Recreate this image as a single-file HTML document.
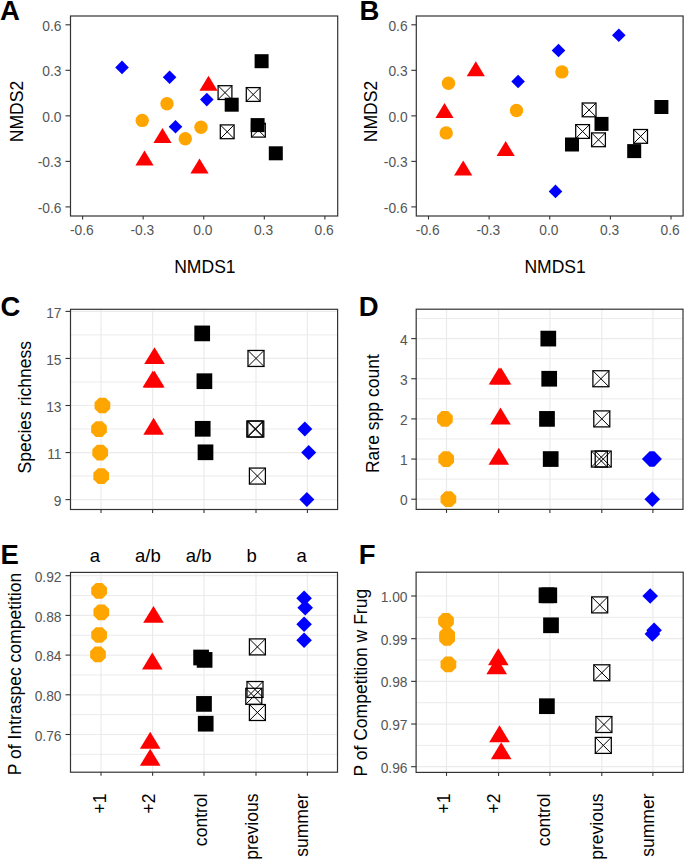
<!DOCTYPE html>
<html><head><meta charset="utf-8"><title>Figure</title><style>html,body{margin:0;padding:0;background:#fff;}svg{display:block;}</style></head><body>
<svg width="685" height="859" viewBox="0 0 685 859" font-family='"Liberation Sans", sans-serif'>
<rect x="0" y="0" width="685" height="859" fill="#fff"/>
<line x1="65.5" y1="206.9" x2="70.5" y2="206.9" stroke="#333333" stroke-width="1.1"/>
<text transform="translate(61.5 213) scale(0.92 1)" font-size="15" text-anchor="end" fill="#555555">-0.6</text>
<line x1="65.5" y1="161.38" x2="70.5" y2="161.38" stroke="#333333" stroke-width="1.1"/>
<text transform="translate(61.5 167.47) scale(0.92 1)" font-size="15" text-anchor="end" fill="#555555">-0.3</text>
<line x1="65.5" y1="115.85" x2="70.5" y2="115.85" stroke="#333333" stroke-width="1.1"/>
<text transform="translate(61.5 121.95) scale(0.92 1)" font-size="15" text-anchor="end" fill="#555555">0.0</text>
<line x1="65.5" y1="70.32" x2="70.5" y2="70.32" stroke="#333333" stroke-width="1.1"/>
<text transform="translate(61.5 76.42) scale(0.92 1)" font-size="15" text-anchor="end" fill="#555555">0.3</text>
<line x1="65.5" y1="24.8" x2="70.5" y2="24.8" stroke="#333333" stroke-width="1.1"/>
<text transform="translate(61.5 30.9) scale(0.92 1)" font-size="15" text-anchor="end" fill="#555555">0.6</text>
<line x1="82.61" y1="216" x2="82.61" y2="219.5" stroke="#333333" stroke-width="1.1"/>
<text transform="translate(81.81 234.6) scale(0.92 1)" font-size="15" text-anchor="middle" fill="#555555">-0.6</text>
<line x1="143.18" y1="216" x2="143.18" y2="219.5" stroke="#333333" stroke-width="1.1"/>
<text transform="translate(142.38 234.6) scale(0.92 1)" font-size="15" text-anchor="middle" fill="#555555">-0.3</text>
<line x1="203.75" y1="216" x2="203.75" y2="219.5" stroke="#333333" stroke-width="1.1"/>
<text transform="translate(202.95 234.6) scale(0.92 1)" font-size="15" text-anchor="middle" fill="#555555">0.0</text>
<line x1="264.32" y1="216" x2="264.32" y2="219.5" stroke="#333333" stroke-width="1.1"/>
<text transform="translate(263.52 234.6) scale(0.92 1)" font-size="15" text-anchor="middle" fill="#555555">0.3</text>
<line x1="324.89" y1="216" x2="324.89" y2="219.5" stroke="#333333" stroke-width="1.1"/>
<text transform="translate(324.09 234.6) scale(0.92 1)" font-size="15" text-anchor="middle" fill="#555555">0.6</text>
<text x="204.9" y="272.5" font-size="17.55" text-anchor="middle" fill="#000" font-weight="normal">NMDS1</text>
<text transform="translate(22.6 111.5) rotate(-90)" font-size="17.55" text-anchor="middle" fill="#000">NMDS2</text>
<text x="0" y="19.9" font-size="27.5" text-anchor="start" fill="#000" font-weight="bold">A</text>
<path d="M115.2 67.4L122 60.6L128.8 67.4L122 74.2Z" fill="#0000ff"/>
<path d="M162.8 77.3L169.6 70.5L176.4 77.3L169.6 84.1Z" fill="#0000ff"/>
<path d="M168.7 126.7L175.5 119.9L182.3 126.7L175.5 133.5Z" fill="#0000ff"/>
<path d="M200 99.6L206.8 92.8L213.6 99.6L206.8 106.4Z" fill="#0000ff"/>
<circle cx="167" cy="103.7" r="6.7" fill="#ffa500"/>
<circle cx="142.2" cy="120.4" r="6.7" fill="#ffa500"/>
<circle cx="201" cy="127.3" r="6.7" fill="#ffa500"/>
<circle cx="185.3" cy="138.7" r="6.7" fill="#ffa500"/>
<path d="M162.5 127.92L171.6 142.89L153.4 142.89Z" fill="#ff0000"/>
<path d="M144.5 150.52L153.6 165.49L135.4 165.49Z" fill="#ff0000"/>
<path d="M199.5 158.42L208.6 173.39L190.4 173.39Z" fill="#ff0000"/>
<path d="M208.5 75.72L217.6 90.69L199.4 90.69Z" fill="#ff0000"/>
<g fill="none" stroke="#000"><rect x="218.1" y="85.7" width="13.8" height="13.8" stroke-width="1.25"/><path d="M218.1 85.7L231.9 99.5M231.9 85.7L218.1 99.5" stroke-width="1.0"/></g>
<g fill="none" stroke="#000"><rect x="246.3" y="87.6" width="13.8" height="13.8" stroke-width="1.25"/><path d="M246.3 87.6L260.1 101.4M260.1 87.6L246.3 101.4" stroke-width="1.0"/></g>
<g fill="none" stroke="#000"><rect x="220.3" y="124.9" width="13.8" height="13.8" stroke-width="1.25"/><path d="M220.3 124.9L234.1 138.7M234.1 124.9L220.3 138.7" stroke-width="1.0"/></g>
<g fill="none" stroke="#000"><rect x="251.5" y="123.3" width="13.8" height="13.8" stroke-width="1.25"/><path d="M251.5 123.3L265.3 137.1M265.3 123.3L251.5 137.1" stroke-width="1.0"/></g>
<rect x="254.6" y="54.2" width="14" height="14" fill="#000"/>
<rect x="224.7" y="97.7" width="14" height="14" fill="#000"/>
<rect x="250.6" y="118.1" width="14" height="14" fill="#000"/>
<rect x="268.8" y="146.3" width="14" height="14" fill="#000"/>
<rect x="70.5" y="16" width="267.2" height="200" fill="none" stroke="#333333" stroke-width="1.2"/>
<line x1="411.3" y1="206.9" x2="416.3" y2="206.9" stroke="#333333" stroke-width="1.1"/>
<text transform="translate(407.6 213) scale(0.92 1)" font-size="15" text-anchor="end" fill="#555555">-0.6</text>
<line x1="411.3" y1="161.38" x2="416.3" y2="161.38" stroke="#333333" stroke-width="1.1"/>
<text transform="translate(407.6 167.47) scale(0.92 1)" font-size="15" text-anchor="end" fill="#555555">-0.3</text>
<line x1="411.3" y1="115.85" x2="416.3" y2="115.85" stroke="#333333" stroke-width="1.1"/>
<text transform="translate(407.6 121.95) scale(0.92 1)" font-size="15" text-anchor="end" fill="#555555">0.0</text>
<line x1="411.3" y1="70.32" x2="416.3" y2="70.32" stroke="#333333" stroke-width="1.1"/>
<text transform="translate(407.6 76.42) scale(0.92 1)" font-size="15" text-anchor="end" fill="#555555">0.3</text>
<line x1="411.3" y1="24.8" x2="416.3" y2="24.8" stroke="#333333" stroke-width="1.1"/>
<text transform="translate(407.6 30.9) scale(0.92 1)" font-size="15" text-anchor="end" fill="#555555">0.6</text>
<line x1="428.49" y1="216" x2="428.49" y2="219.5" stroke="#333333" stroke-width="1.1"/>
<text transform="translate(427.69 234.6) scale(0.92 1)" font-size="15" text-anchor="middle" fill="#555555">-0.6</text>
<line x1="489.12" y1="216" x2="489.12" y2="219.5" stroke="#333333" stroke-width="1.1"/>
<text transform="translate(488.32 234.6) scale(0.92 1)" font-size="15" text-anchor="middle" fill="#555555">-0.3</text>
<line x1="549.75" y1="216" x2="549.75" y2="219.5" stroke="#333333" stroke-width="1.1"/>
<text transform="translate(548.95 234.6) scale(0.92 1)" font-size="15" text-anchor="middle" fill="#555555">0.0</text>
<line x1="610.38" y1="216" x2="610.38" y2="219.5" stroke="#333333" stroke-width="1.1"/>
<text transform="translate(609.58 234.6) scale(0.92 1)" font-size="15" text-anchor="middle" fill="#555555">0.3</text>
<line x1="671.01" y1="216" x2="671.01" y2="219.5" stroke="#333333" stroke-width="1.1"/>
<text transform="translate(670.21 234.6) scale(0.92 1)" font-size="15" text-anchor="middle" fill="#555555">0.6</text>
<text x="555.1" y="272.5" font-size="17.55" text-anchor="middle" fill="#000" font-weight="normal">NMDS1</text>
<text transform="translate(377.2 111.5) rotate(-90)" font-size="17.55" text-anchor="middle" fill="#000">NMDS2</text>
<text x="359.5" y="19.9" font-size="27.5" text-anchor="start" fill="#000" font-weight="bold">B</text>
<circle cx="448.5" cy="83.3" r="6.7" fill="#ffa500"/>
<circle cx="516.5" cy="110.5" r="6.7" fill="#ffa500"/>
<circle cx="446.2" cy="132.9" r="6.7" fill="#ffa500"/>
<circle cx="561.9" cy="71.9" r="6.7" fill="#ffa500"/>
<path d="M475.8 61.22L484.9 76.19L466.7 76.19Z" fill="#ff0000"/>
<path d="M444.5 103.12L453.6 118.09L435.4 118.09Z" fill="#ff0000"/>
<path d="M505.7 141.12L514.8 156.09L496.6 156.09Z" fill="#ff0000"/>
<path d="M463.2 160.42L472.3 175.39L454.1 175.39Z" fill="#ff0000"/>
<path d="M511.3 81.5L518.1 74.7L524.9 81.5L518.1 88.3Z" fill="#0000ff"/>
<path d="M551.7 50.5L558.5 43.7L565.3 50.5L558.5 57.3Z" fill="#0000ff"/>
<path d="M612 35.2L618.8 28.4L625.6 35.2L618.8 42Z" fill="#0000ff"/>
<path d="M548.7 191.4L555.5 184.6L562.3 191.4L555.5 198.2Z" fill="#0000ff"/>
<g fill="none" stroke="#000"><rect x="582.2" y="103" width="13.8" height="13.8" stroke-width="1.25"/><path d="M582.2 103L596 116.8M596 103L582.2 116.8" stroke-width="1.0"/></g>
<g fill="none" stroke="#000"><rect x="575.7" y="124.6" width="13.8" height="13.8" stroke-width="1.25"/><path d="M575.7 124.6L589.5 138.4M589.5 124.6L575.7 138.4" stroke-width="1.0"/></g>
<g fill="none" stroke="#000"><rect x="591.6" y="132.9" width="13.8" height="13.8" stroke-width="1.25"/><path d="M591.6 132.9L605.4 146.7M605.4 132.9L591.6 146.7" stroke-width="1.0"/></g>
<g fill="none" stroke="#000"><rect x="633.7" y="129.5" width="13.8" height="13.8" stroke-width="1.25"/><path d="M633.7 129.5L647.5 143.3M647.5 129.5L633.7 143.3" stroke-width="1.0"/></g>
<rect x="594.5" y="116.9" width="14" height="14" fill="#000"/>
<rect x="565" y="137.5" width="14" height="14" fill="#000"/>
<rect x="627.2" y="144.1" width="14" height="14" fill="#000"/>
<rect x="654.4" y="100" width="14" height="14" fill="#000"/>
<rect x="416.3" y="16" width="266.8" height="200" fill="none" stroke="#333333" stroke-width="1.2"/>
<line x1="70.5" y1="334.92" x2="337.6" y2="334.92" stroke="#ebebeb" stroke-width="1.0"/>
<line x1="70.5" y1="381.97" x2="337.6" y2="381.97" stroke="#ebebeb" stroke-width="1.0"/>
<line x1="70.5" y1="429.02" x2="337.6" y2="429.02" stroke="#ebebeb" stroke-width="1.0"/>
<line x1="70.5" y1="476.07" x2="337.6" y2="476.07" stroke="#ebebeb" stroke-width="1.0"/>
<line x1="70.5" y1="311.4" x2="337.6" y2="311.4" stroke="#ebebeb" stroke-width="1.2"/>
<line x1="70.5" y1="358.45" x2="337.6" y2="358.45" stroke="#ebebeb" stroke-width="1.2"/>
<line x1="70.5" y1="405.5" x2="337.6" y2="405.5" stroke="#ebebeb" stroke-width="1.2"/>
<line x1="70.5" y1="452.55" x2="337.6" y2="452.55" stroke="#ebebeb" stroke-width="1.2"/>
<line x1="70.5" y1="499.6" x2="337.6" y2="499.6" stroke="#ebebeb" stroke-width="1.2"/>
<line x1="101" y1="309.3" x2="101" y2="509.5" stroke="#ebebeb" stroke-width="1.2"/>
<line x1="152.6" y1="309.3" x2="152.6" y2="509.5" stroke="#ebebeb" stroke-width="1.2"/>
<line x1="204" y1="309.3" x2="204" y2="509.5" stroke="#ebebeb" stroke-width="1.2"/>
<line x1="256" y1="309.3" x2="256" y2="509.5" stroke="#ebebeb" stroke-width="1.2"/>
<line x1="307.4" y1="309.3" x2="307.4" y2="509.5" stroke="#ebebeb" stroke-width="1.2"/>
<line x1="65.5" y1="311.4" x2="70.5" y2="311.4" stroke="#333333" stroke-width="1.1"/>
<text transform="translate(61.5 317.5) scale(0.92 1)" font-size="15" text-anchor="end" fill="#555555">17</text>
<line x1="65.5" y1="358.45" x2="70.5" y2="358.45" stroke="#333333" stroke-width="1.1"/>
<text transform="translate(61.5 364.55) scale(0.92 1)" font-size="15" text-anchor="end" fill="#555555">15</text>
<line x1="65.5" y1="405.5" x2="70.5" y2="405.5" stroke="#333333" stroke-width="1.1"/>
<text transform="translate(61.5 411.6) scale(0.92 1)" font-size="15" text-anchor="end" fill="#555555">13</text>
<line x1="65.5" y1="452.55" x2="70.5" y2="452.55" stroke="#333333" stroke-width="1.1"/>
<text transform="translate(61.5 458.65) scale(0.92 1)" font-size="15" text-anchor="end" fill="#555555">11</text>
<line x1="65.5" y1="499.6" x2="70.5" y2="499.6" stroke="#333333" stroke-width="1.1"/>
<text transform="translate(61.5 505.7) scale(0.92 1)" font-size="15" text-anchor="end" fill="#555555">9</text>
<line x1="101" y1="509.5" x2="101" y2="513" stroke="#333333" stroke-width="1.1"/>
<line x1="152.6" y1="509.5" x2="152.6" y2="513" stroke="#333333" stroke-width="1.1"/>
<line x1="204" y1="509.5" x2="204" y2="513" stroke="#333333" stroke-width="1.1"/>
<line x1="256" y1="509.5" x2="256" y2="513" stroke="#333333" stroke-width="1.1"/>
<line x1="307.4" y1="509.5" x2="307.4" y2="513" stroke="#333333" stroke-width="1.1"/>
<text transform="translate(30.6 407.3) rotate(-90)" font-size="17.55" text-anchor="middle" fill="#000">Species richness</text>
<text x="0.5" y="316.2" font-size="27.5" text-anchor="start" fill="#000" font-weight="bold">C</text>
<polygon points="110.25,408.75 105.65,413.35 99.15,413.35 94.55,408.75 94.55,402.25 99.15,397.65 105.65,397.65 110.25,402.25" fill="#ffa500"/>
<polygon points="106.85,432.28 102.25,436.88 95.75,436.88 91.15,432.28 91.15,425.77 95.75,421.17 102.25,421.17 106.85,425.77" fill="#ffa500"/>
<polygon points="108.05,455.8 103.45,460.4 96.95,460.4 92.35,455.8 92.35,449.3 96.95,444.7 103.45,444.7 108.05,449.3" fill="#ffa500"/>
<polygon points="109.05,479.33 104.45,483.93 97.95,483.93 93.35,479.33 93.35,472.82 97.95,468.22 104.45,468.22 109.05,472.82" fill="#ffa500"/>
<path d="M154.5 347.15L164.8 364.1L144.2 364.1Z" fill="#ff0000"/>
<path d="M152.8 370.68L163.1 387.62L142.5 387.62Z" fill="#ff0000"/>
<path d="M154.4 370.68L164.7 387.62L144.1 387.62Z" fill="#ff0000"/>
<path d="M153.6 417.73L163.9 434.67L143.3 434.67Z" fill="#ff0000"/>
<rect x="194.35" y="325.55" width="15.7" height="15.7" fill="#000"/>
<rect x="196.55" y="373.35" width="15.7" height="15.7" fill="#000"/>
<rect x="194.85" y="420.95" width="15.7" height="15.7" fill="#000"/>
<rect x="197.65" y="444.45" width="15.7" height="15.7" fill="#000"/>
<g fill="none" stroke="#000"><rect x="248" y="350.45" width="16" height="16" stroke-width="1.25"/><path d="M248 350.45L264 366.45M264 350.45L248 366.45" stroke-width="1.0"/></g>
<g fill="none" stroke="#000"><rect x="246.8" y="421.02" width="16" height="16" stroke-width="1.25"/><path d="M246.8 421.02L262.8 437.02M262.8 421.02L246.8 437.02" stroke-width="1.0"/></g>
<g fill="none" stroke="#000"><rect x="247.8" y="421.02" width="16" height="16" stroke-width="1.25"/><path d="M247.8 421.02L263.8 437.02M263.8 421.02L247.8 437.02" stroke-width="1.0"/></g>
<g fill="none" stroke="#000"><rect x="249.4" y="468.07" width="16" height="16" stroke-width="1.25"/><path d="M249.4 468.07L265.4 484.07M265.4 468.07L249.4 484.07" stroke-width="1.0"/></g>
<path d="M297.3 429.02L304.8 421.52L312.3 429.02L304.8 436.52Z" fill="#0000ff"/>
<path d="M301.2 452.55L308.7 445.05L316.2 452.55L308.7 460.05Z" fill="#0000ff"/>
<path d="M299.4 499.6L306.9 492.1L314.4 499.6L306.9 507.1Z" fill="#0000ff"/>
<rect x="70.5" y="309.3" width="267.1" height="200.2" fill="none" stroke="#333333" stroke-width="1.2"/>
<line x1="416.2" y1="479.12" x2="683" y2="479.12" stroke="#ebebeb" stroke-width="1.0"/>
<line x1="416.2" y1="438.98" x2="683" y2="438.98" stroke="#ebebeb" stroke-width="1.0"/>
<line x1="416.2" y1="398.82" x2="683" y2="398.82" stroke="#ebebeb" stroke-width="1.0"/>
<line x1="416.2" y1="358.67" x2="683" y2="358.67" stroke="#ebebeb" stroke-width="1.0"/>
<line x1="416.2" y1="318.52" x2="683" y2="318.52" stroke="#ebebeb" stroke-width="1.0"/>
<line x1="416.2" y1="338.6" x2="683" y2="338.6" stroke="#ebebeb" stroke-width="1.2"/>
<line x1="416.2" y1="378.75" x2="683" y2="378.75" stroke="#ebebeb" stroke-width="1.2"/>
<line x1="416.2" y1="418.9" x2="683" y2="418.9" stroke="#ebebeb" stroke-width="1.2"/>
<line x1="416.2" y1="459.05" x2="683" y2="459.05" stroke="#ebebeb" stroke-width="1.2"/>
<line x1="416.2" y1="499.2" x2="683" y2="499.2" stroke="#ebebeb" stroke-width="1.2"/>
<line x1="446.5" y1="309.2" x2="446.5" y2="509.4" stroke="#ebebeb" stroke-width="1.2"/>
<line x1="498.6" y1="309.2" x2="498.6" y2="509.4" stroke="#ebebeb" stroke-width="1.2"/>
<line x1="549.9" y1="309.2" x2="549.9" y2="509.4" stroke="#ebebeb" stroke-width="1.2"/>
<line x1="601.8" y1="309.2" x2="601.8" y2="509.4" stroke="#ebebeb" stroke-width="1.2"/>
<line x1="652.9" y1="309.2" x2="652.9" y2="509.4" stroke="#ebebeb" stroke-width="1.2"/>
<line x1="411.2" y1="338.6" x2="416.2" y2="338.6" stroke="#333333" stroke-width="1.1"/>
<text transform="translate(407.7 344.7) scale(0.92 1)" font-size="15" text-anchor="end" fill="#555555">4</text>
<line x1="411.2" y1="378.75" x2="416.2" y2="378.75" stroke="#333333" stroke-width="1.1"/>
<text transform="translate(407.7 384.85) scale(0.92 1)" font-size="15" text-anchor="end" fill="#555555">3</text>
<line x1="411.2" y1="418.9" x2="416.2" y2="418.9" stroke="#333333" stroke-width="1.1"/>
<text transform="translate(407.7 425) scale(0.92 1)" font-size="15" text-anchor="end" fill="#555555">2</text>
<line x1="411.2" y1="459.05" x2="416.2" y2="459.05" stroke="#333333" stroke-width="1.1"/>
<text transform="translate(407.7 465.15) scale(0.92 1)" font-size="15" text-anchor="end" fill="#555555">1</text>
<line x1="411.2" y1="499.2" x2="416.2" y2="499.2" stroke="#333333" stroke-width="1.1"/>
<text transform="translate(407.7 505.3) scale(0.92 1)" font-size="15" text-anchor="end" fill="#555555">0</text>
<line x1="446.5" y1="509.4" x2="446.5" y2="512.9" stroke="#333333" stroke-width="1.1"/>
<line x1="498.6" y1="509.4" x2="498.6" y2="512.9" stroke="#333333" stroke-width="1.1"/>
<line x1="549.9" y1="509.4" x2="549.9" y2="512.9" stroke="#333333" stroke-width="1.1"/>
<line x1="601.8" y1="509.4" x2="601.8" y2="512.9" stroke="#333333" stroke-width="1.1"/>
<line x1="652.9" y1="509.4" x2="652.9" y2="512.9" stroke="#333333" stroke-width="1.1"/>
<text transform="translate(378.6 413.6) rotate(-90)" font-size="17.55" text-anchor="middle" fill="#000">Rare spp count</text>
<text x="358.8" y="316.2" font-size="27.5" text-anchor="start" fill="#000" font-weight="bold">D</text>
<polygon points="452.75,422.15 448.15,426.75 441.65,426.75 437.05,422.15 437.05,415.65 441.65,411.05 448.15,411.05 452.75,415.65" fill="#ffa500"/>
<polygon points="454.05,462.3 449.45,466.9 442.95,466.9 438.35,462.3 438.35,455.8 442.95,451.2 449.45,451.2 454.05,455.8" fill="#ffa500"/>
<polygon points="456.25,502.45 451.65,507.05 445.15,507.05 440.55,502.45 440.55,495.95 445.15,491.35 451.65,491.35 456.25,495.95" fill="#ffa500"/>
<path d="M499 367.45L509.3 384.4L488.7 384.4Z" fill="#ff0000"/>
<path d="M501 367.45L511.3 384.4L490.7 384.4Z" fill="#ff0000"/>
<path d="M500.5 407.6L510.8 424.55L490.2 424.55Z" fill="#ff0000"/>
<path d="M498.8 447.75L509.1 464.7L488.5 464.7Z" fill="#ff0000"/>
<rect x="540.45" y="330.75" width="15.7" height="15.7" fill="#000"/>
<rect x="541.35" y="370.9" width="15.7" height="15.7" fill="#000"/>
<rect x="539.15" y="411.05" width="15.7" height="15.7" fill="#000"/>
<rect x="542.85" y="451.2" width="15.7" height="15.7" fill="#000"/>
<g fill="none" stroke="#000"><rect x="592.9" y="370.75" width="16" height="16" stroke-width="1.25"/><path d="M592.9 370.75L608.9 386.75M608.9 370.75L592.9 386.75" stroke-width="1.0"/></g>
<g fill="none" stroke="#000"><rect x="593.8" y="410.9" width="16" height="16" stroke-width="1.25"/><path d="M593.8 410.9L609.8 426.9M609.8 410.9L593.8 426.9" stroke-width="1.0"/></g>
<g fill="none" stroke="#000"><rect x="591.4" y="451.05" width="16" height="16" stroke-width="1.25"/><path d="M591.4 451.05L607.4 467.05M607.4 451.05L591.4 467.05" stroke-width="1.0"/></g>
<g fill="none" stroke="#000"><rect x="595.2" y="451.05" width="16" height="16" stroke-width="1.25"/><path d="M595.2 451.05L611.2 467.05M611.2 451.05L595.2 467.05" stroke-width="1.0"/></g>
<path d="M644.5 499.2L652.3 491.4L660.1 499.2L652.3 507Z" fill="#0000ff"/>
<path d="M641.9 459.05L649.6 451.35L654.4 451.35L661.9 459.05L654.4 466.75L649.6 466.75Z" fill="#0000ff"/>
<rect x="416.2" y="309.2" width="266.8" height="200.2" fill="none" stroke="#333333" stroke-width="1.2"/>
<line x1="70.5" y1="595.55" x2="337.5" y2="595.55" stroke="#ebebeb" stroke-width="1.0"/>
<line x1="70.5" y1="635.25" x2="337.5" y2="635.25" stroke="#ebebeb" stroke-width="1.0"/>
<line x1="70.5" y1="674.95" x2="337.5" y2="674.95" stroke="#ebebeb" stroke-width="1.0"/>
<line x1="70.5" y1="714.65" x2="337.5" y2="714.65" stroke="#ebebeb" stroke-width="1.0"/>
<line x1="70.5" y1="754.35" x2="337.5" y2="754.35" stroke="#ebebeb" stroke-width="1.0"/>
<line x1="70.5" y1="575.7" x2="337.5" y2="575.7" stroke="#ebebeb" stroke-width="1.2"/>
<line x1="70.5" y1="615.4" x2="337.5" y2="615.4" stroke="#ebebeb" stroke-width="1.2"/>
<line x1="70.5" y1="655.1" x2="337.5" y2="655.1" stroke="#ebebeb" stroke-width="1.2"/>
<line x1="70.5" y1="694.8" x2="337.5" y2="694.8" stroke="#ebebeb" stroke-width="1.2"/>
<line x1="70.5" y1="734.5" x2="337.5" y2="734.5" stroke="#ebebeb" stroke-width="1.2"/>
<line x1="101" y1="572.4" x2="101" y2="772.2" stroke="#ebebeb" stroke-width="1.2"/>
<line x1="152.6" y1="572.4" x2="152.6" y2="772.2" stroke="#ebebeb" stroke-width="1.2"/>
<line x1="204" y1="572.4" x2="204" y2="772.2" stroke="#ebebeb" stroke-width="1.2"/>
<line x1="256" y1="572.4" x2="256" y2="772.2" stroke="#ebebeb" stroke-width="1.2"/>
<line x1="307.4" y1="572.4" x2="307.4" y2="772.2" stroke="#ebebeb" stroke-width="1.2"/>
<line x1="65.5" y1="575.7" x2="70.5" y2="575.7" stroke="#333333" stroke-width="1.1"/>
<text transform="translate(61.5 581.8) scale(0.92 1)" font-size="15" text-anchor="end" fill="#555555">0.92</text>
<line x1="65.5" y1="615.4" x2="70.5" y2="615.4" stroke="#333333" stroke-width="1.1"/>
<text transform="translate(61.5 621.5) scale(0.92 1)" font-size="15" text-anchor="end" fill="#555555">0.88</text>
<line x1="65.5" y1="655.1" x2="70.5" y2="655.1" stroke="#333333" stroke-width="1.1"/>
<text transform="translate(61.5 661.2) scale(0.92 1)" font-size="15" text-anchor="end" fill="#555555">0.84</text>
<line x1="65.5" y1="694.8" x2="70.5" y2="694.8" stroke="#333333" stroke-width="1.1"/>
<text transform="translate(61.5 700.9) scale(0.92 1)" font-size="15" text-anchor="end" fill="#555555">0.80</text>
<line x1="65.5" y1="734.5" x2="70.5" y2="734.5" stroke="#333333" stroke-width="1.1"/>
<text transform="translate(61.5 740.6) scale(0.92 1)" font-size="15" text-anchor="end" fill="#555555">0.76</text>
<line x1="101" y1="772.2" x2="101" y2="775.7" stroke="#333333" stroke-width="1.1"/>
<line x1="152.6" y1="772.2" x2="152.6" y2="775.7" stroke="#333333" stroke-width="1.1"/>
<line x1="204" y1="772.2" x2="204" y2="775.7" stroke="#333333" stroke-width="1.1"/>
<line x1="256" y1="772.2" x2="256" y2="775.7" stroke="#333333" stroke-width="1.1"/>
<line x1="307.4" y1="772.2" x2="307.4" y2="775.7" stroke="#333333" stroke-width="1.1"/>
<text transform="translate(20.6 674) rotate(-90)" font-size="17.55" text-anchor="middle" fill="#000">P of Intraspec competition</text>
<text x="0.5" y="564.4" font-size="27.5" text-anchor="start" fill="#000" font-weight="bold">E</text>
<text x="94.9" y="562.3" font-size="18.5" text-anchor="middle" fill="#000" font-weight="normal">a</text>
<text x="147.9" y="562.3" font-size="18.5" text-anchor="middle" fill="#000" font-weight="normal">a/b</text>
<text x="198.6" y="562.3" font-size="18.5" text-anchor="middle" fill="#000" font-weight="normal">a/b</text>
<text x="251.7" y="562.3" font-size="18.5" text-anchor="middle" fill="#000" font-weight="normal">b</text>
<text x="301.6" y="562.3" font-size="18.5" text-anchor="middle" fill="#000" font-weight="normal">a</text>
<text transform="translate(105.7 793.5) rotate(-90)" font-size="17.55" text-anchor="end" fill="#000">+1</text>
<text transform="translate(154.5 793.5) rotate(-90)" font-size="17.55" text-anchor="end" fill="#000">+2</text>
<text transform="translate(206.9 793.5) rotate(-90)" font-size="17.55" text-anchor="end" fill="#000">control</text>
<text transform="translate(257.6 793.5) rotate(-90)" font-size="17.55" text-anchor="end" fill="#000">previous</text>
<text transform="translate(308.4 793.5) rotate(-90)" font-size="17.55" text-anchor="end" fill="#000">summer</text>
<polygon points="106.95,594.05 102.35,598.65 95.85,598.65 91.25,594.05 91.25,587.55 95.85,582.95 102.35,582.95 106.95,587.55" fill="#ffa500"/>
<polygon points="109.15,615.55 104.55,620.15 98.05,620.15 93.45,615.55 93.45,609.05 98.05,604.45 104.55,604.45 109.15,609.05" fill="#ffa500"/>
<polygon points="106.95,638.25 102.35,642.85 95.85,642.85 91.25,638.25 91.25,631.75 95.85,627.15 102.35,627.15 106.95,631.75" fill="#ffa500"/>
<polygon points="105.85,657.65 101.25,662.25 94.75,662.25 90.15,657.65 90.15,651.15 94.75,646.55 101.25,646.55 105.85,651.15" fill="#ffa500"/>
<path d="M153.5 605.9L163.8 622.85L143.2 622.85Z" fill="#ff0000"/>
<path d="M152.3 652.6L162.6 669.55L142 669.55Z" fill="#ff0000"/>
<path d="M150.2 731.7L160.5 748.65L139.9 748.65Z" fill="#ff0000"/>
<path d="M150.2 748.7L160.5 765.65L139.9 765.65Z" fill="#ff0000"/>
<rect x="193.25" y="649.65" width="15.7" height="15.7" fill="#000"/>
<rect x="196.75" y="652.05" width="15.7" height="15.7" fill="#000"/>
<rect x="196.15" y="696.05" width="15.7" height="15.7" fill="#000"/>
<rect x="197.85" y="715.85" width="15.7" height="15.7" fill="#000"/>
<g fill="none" stroke="#000"><rect x="249.4" y="638.9" width="16" height="16" stroke-width="1.25"/><path d="M249.4 638.9L265.4 654.9M265.4 638.9L249.4 654.9" stroke-width="1.0"/></g>
<g fill="none" stroke="#000"><rect x="247" y="681.5" width="16" height="16" stroke-width="1.25"/><path d="M247 681.5L263 697.5M263 681.5L247 697.5" stroke-width="1.0"/></g>
<g fill="none" stroke="#000"><rect x="245.8" y="688.3" width="16" height="16" stroke-width="1.25"/><path d="M245.8 688.3L261.8 704.3M261.8 688.3L245.8 704.3" stroke-width="1.0"/></g>
<g fill="none" stroke="#000"><rect x="249.4" y="704.5" width="16" height="16" stroke-width="1.25"/><path d="M249.4 704.5L265.4 720.5M265.4 704.5L249.4 720.5" stroke-width="1.0"/></g>
<path d="M296.3 598.2L304.1 590.4L311.9 598.2L304.1 606Z" fill="#0000ff"/>
<path d="M297.4 607.8L305.2 600L313 607.8L305.2 615.6Z" fill="#0000ff"/>
<path d="M296.3 624.2L304.1 616.4L311.9 624.2L304.1 632Z" fill="#0000ff"/>
<path d="M296.3 640.2L304.1 632.4L311.9 640.2L304.1 648Z" fill="#0000ff"/>
<rect x="70.5" y="572.4" width="267" height="199.8" fill="none" stroke="#333333" stroke-width="1.2"/>
<line x1="416.1" y1="617.34" x2="683.2" y2="617.34" stroke="#ebebeb" stroke-width="1.0"/>
<line x1="416.1" y1="660.01" x2="683.2" y2="660.01" stroke="#ebebeb" stroke-width="1.0"/>
<line x1="416.1" y1="702.69" x2="683.2" y2="702.69" stroke="#ebebeb" stroke-width="1.0"/>
<line x1="416.1" y1="745.36" x2="683.2" y2="745.36" stroke="#ebebeb" stroke-width="1.0"/>
<line x1="416.1" y1="596" x2="683.2" y2="596" stroke="#ebebeb" stroke-width="1.2"/>
<line x1="416.1" y1="638.68" x2="683.2" y2="638.68" stroke="#ebebeb" stroke-width="1.2"/>
<line x1="416.1" y1="681.35" x2="683.2" y2="681.35" stroke="#ebebeb" stroke-width="1.2"/>
<line x1="416.1" y1="724.03" x2="683.2" y2="724.03" stroke="#ebebeb" stroke-width="1.2"/>
<line x1="416.1" y1="766.7" x2="683.2" y2="766.7" stroke="#ebebeb" stroke-width="1.2"/>
<line x1="446.5" y1="572.2" x2="446.5" y2="772.4" stroke="#ebebeb" stroke-width="1.2"/>
<line x1="498.6" y1="572.2" x2="498.6" y2="772.4" stroke="#ebebeb" stroke-width="1.2"/>
<line x1="549.9" y1="572.2" x2="549.9" y2="772.4" stroke="#ebebeb" stroke-width="1.2"/>
<line x1="601.8" y1="572.2" x2="601.8" y2="772.4" stroke="#ebebeb" stroke-width="1.2"/>
<line x1="652.9" y1="572.2" x2="652.9" y2="772.4" stroke="#ebebeb" stroke-width="1.2"/>
<line x1="411.1" y1="596" x2="416.1" y2="596" stroke="#333333" stroke-width="1.1"/>
<text transform="translate(407.5 602.1) scale(0.92 1)" font-size="15" text-anchor="end" fill="#555555">1.00</text>
<line x1="411.1" y1="638.68" x2="416.1" y2="638.68" stroke="#333333" stroke-width="1.1"/>
<text transform="translate(407.5 644.78) scale(0.92 1)" font-size="15" text-anchor="end" fill="#555555">0.99</text>
<line x1="411.1" y1="681.35" x2="416.1" y2="681.35" stroke="#333333" stroke-width="1.1"/>
<text transform="translate(407.5 687.45) scale(0.92 1)" font-size="15" text-anchor="end" fill="#555555">0.98</text>
<line x1="411.1" y1="724.03" x2="416.1" y2="724.03" stroke="#333333" stroke-width="1.1"/>
<text transform="translate(407.5 730.13) scale(0.92 1)" font-size="15" text-anchor="end" fill="#555555">0.97</text>
<line x1="411.1" y1="766.7" x2="416.1" y2="766.7" stroke="#333333" stroke-width="1.1"/>
<text transform="translate(407.5 772.8) scale(0.92 1)" font-size="15" text-anchor="end" fill="#555555">0.96</text>
<line x1="446.5" y1="772.4" x2="446.5" y2="775.9" stroke="#333333" stroke-width="1.1"/>
<line x1="498.6" y1="772.4" x2="498.6" y2="775.9" stroke="#333333" stroke-width="1.1"/>
<line x1="549.9" y1="772.4" x2="549.9" y2="775.9" stroke="#333333" stroke-width="1.1"/>
<line x1="601.8" y1="772.4" x2="601.8" y2="775.9" stroke="#333333" stroke-width="1.1"/>
<line x1="652.9" y1="772.4" x2="652.9" y2="775.9" stroke="#333333" stroke-width="1.1"/>
<text transform="translate(366.6 682.7) rotate(-90)" font-size="17.55" text-anchor="middle" fill="#000">P of Competition w Frug</text>
<text x="358.8" y="564.4" font-size="27.5" text-anchor="start" fill="#000" font-weight="bold">F</text>
<text transform="translate(450.4 793.5) rotate(-90)" font-size="17.55" text-anchor="end" fill="#000">+1</text>
<text transform="translate(499.7 793.5) rotate(-90)" font-size="17.55" text-anchor="end" fill="#000">+2</text>
<text transform="translate(550 793.5) rotate(-90)" font-size="17.55" text-anchor="end" fill="#000">control</text>
<text transform="translate(602.9 793.5) rotate(-90)" font-size="17.55" text-anchor="end" fill="#000">previous</text>
<text transform="translate(653.7 793.5) rotate(-90)" font-size="17.55" text-anchor="end" fill="#000">summer</text>
<polygon points="453.85,624.15 449.25,628.75 442.75,628.75 438.15,624.15 438.15,617.65 442.75,613.05 449.25,613.05 453.85,617.65" fill="#ffa500"/>
<polygon points="454.95,638.55 450.35,643.15 443.85,643.15 439.25,638.55 439.25,632.05 443.85,627.45 450.35,627.45 454.95,632.05" fill="#ffa500"/>
<polygon points="454.95,641.25 450.35,645.85 443.85,645.85 439.25,641.25 439.25,634.75 443.85,630.15 450.35,630.15 454.95,634.75" fill="#ffa500"/>
<polygon points="456.25,667.65 451.65,672.25 445.15,672.25 440.55,667.65 440.55,661.15 445.15,656.55 451.65,656.55 456.25,661.15" fill="#ffa500"/>
<path d="M498.3 648.3L508.6 665.25L488 665.25Z" fill="#ff0000"/>
<path d="M496.7 657.3L507 674.25L486.4 674.25Z" fill="#ff0000"/>
<path d="M499.5 725.2L509.8 742.15L489.2 742.15Z" fill="#ff0000"/>
<path d="M501.2 742.2L511.5 759.15L490.9 759.15Z" fill="#ff0000"/>
<rect x="538.65" y="587.45" width="15.7" height="15.7" fill="#000"/>
<rect x="541.45" y="587.45" width="15.7" height="15.7" fill="#000"/>
<rect x="543.15" y="617.45" width="15.7" height="15.7" fill="#000"/>
<rect x="539.05" y="698.35" width="15.7" height="15.7" fill="#000"/>
<g fill="none" stroke="#000"><rect x="591.7" y="596.9" width="16" height="16" stroke-width="1.25"/><path d="M591.7 596.9L607.7 612.9M607.7 596.9L591.7 612.9" stroke-width="1.0"/></g>
<g fill="none" stroke="#000"><rect x="593.8" y="664.8" width="16" height="16" stroke-width="1.25"/><path d="M593.8 664.8L609.8 680.8M609.8 664.8L593.8 680.8" stroke-width="1.0"/></g>
<g fill="none" stroke="#000"><rect x="595.9" y="716.5" width="16" height="16" stroke-width="1.25"/><path d="M595.9 716.5L611.9 732.5M611.9 716.5L595.9 732.5" stroke-width="1.0"/></g>
<g fill="none" stroke="#000"><rect x="595.3" y="737.4" width="16" height="16" stroke-width="1.25"/><path d="M595.3 737.4L611.3 753.4M611.3 737.4L595.3 753.4" stroke-width="1.0"/></g>
<path d="M642.4 596L650.2 588.2L658 596L650.2 603.8Z" fill="#0000ff"/>
<path d="M646.3 630.3L654.1 622.5L661.9 630.3L654.1 638.1Z" fill="#0000ff"/>
<path d="M644.6 633.9L652.4 626.1L660.2 633.9L652.4 641.7Z" fill="#0000ff"/>
<rect x="416.1" y="572.2" width="267.1" height="200.2" fill="none" stroke="#333333" stroke-width="1.2"/>
</svg>
</body></html>
